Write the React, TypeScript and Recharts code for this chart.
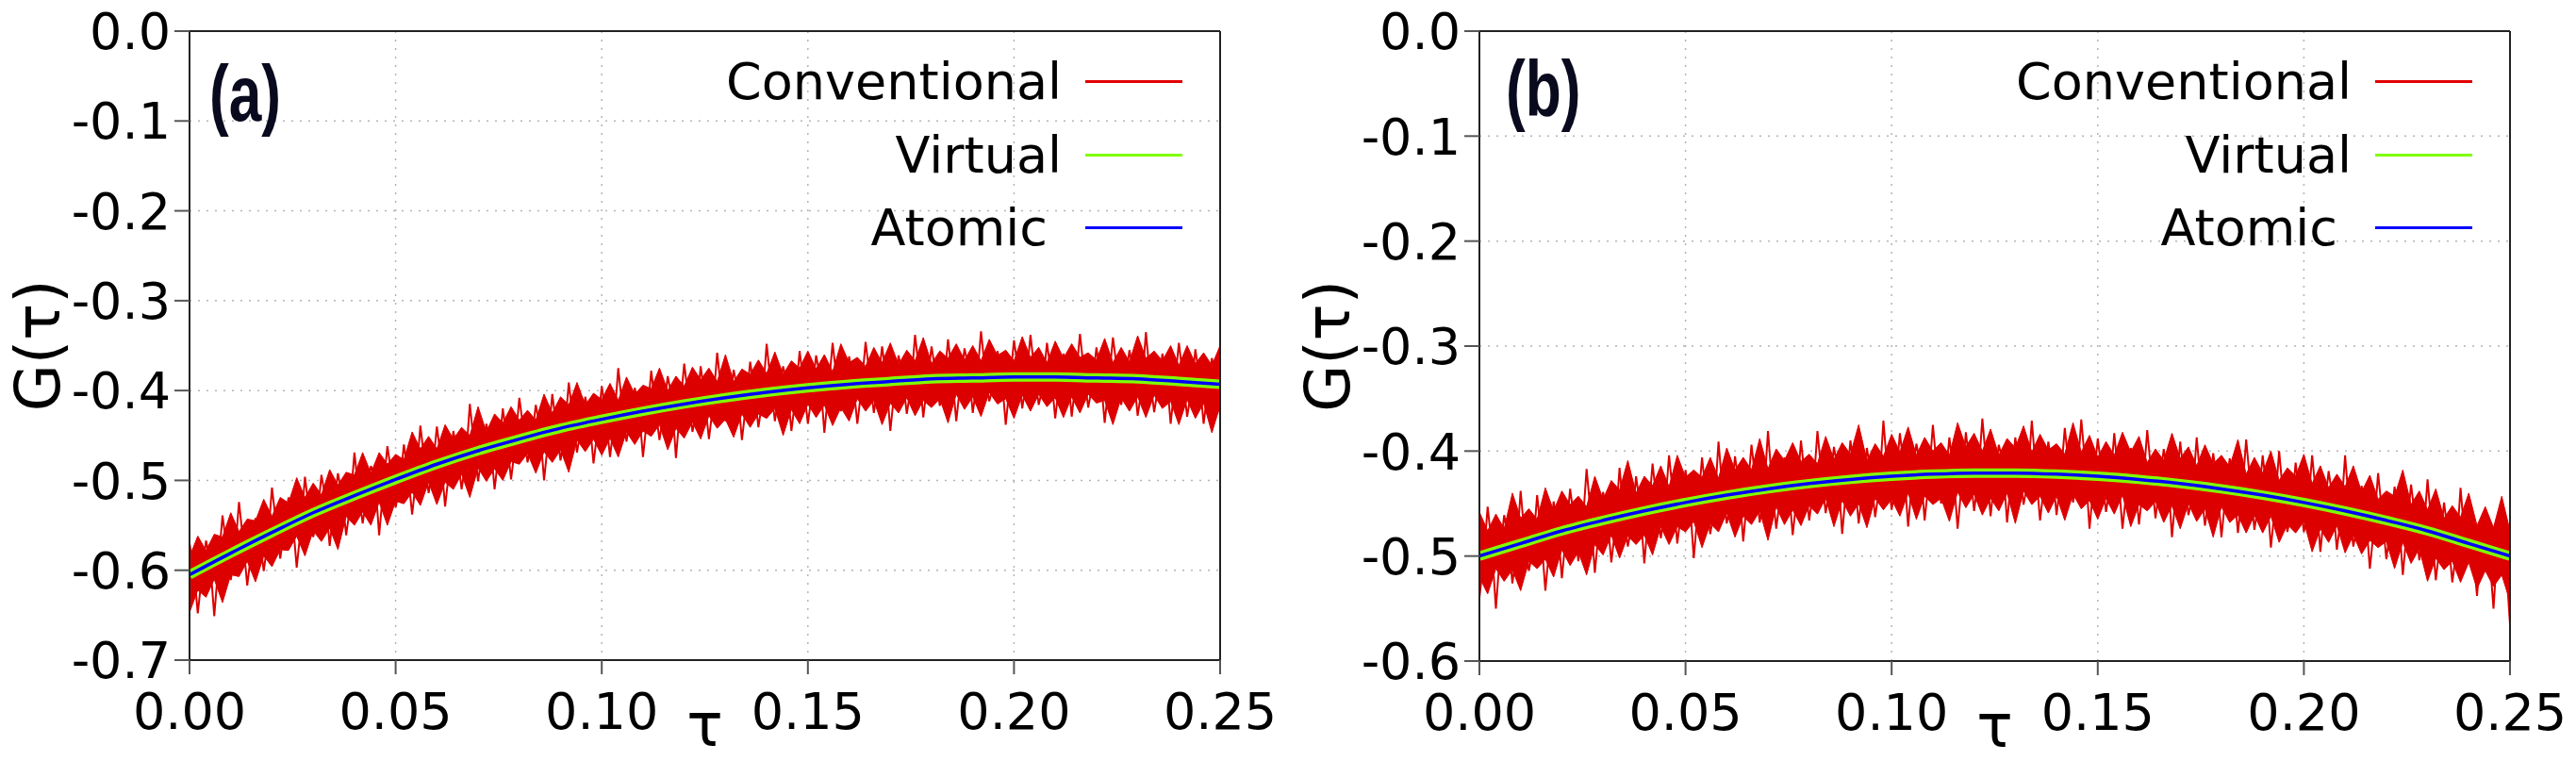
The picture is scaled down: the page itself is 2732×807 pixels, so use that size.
import { ComposedChart, Line, Area, XAxis, YAxis, CartesianGrid, Legend } from 'recharts'

const FONT = '"DejaVu Sans", sans-serif'
const TAG_FONT = '"Liberation Sans", Arial, sans-serif'
const RED = '#dd0000'
const GREEN = '#80ff00'
const BLUE = '#0000ff'

const LEGEND_NAMES = ['Conventional', 'Virtual', 'Atomic']
const LEGEND_COLORS = ['#e00000', GREEN, BLUE]

const TAU_TICKS = [0, 0.05, 0.1, 0.15, 0.2, 0.25]
const Y_TICKS_A = [0, -0.1, -0.2, -0.3, -0.4, -0.5, -0.6, -0.7]
const Y_TICKS_B = [0, -0.1, -0.2, -0.3, -0.4, -0.5, -0.6]

// coarse grid for the smooth Virtual / Atomic curves
const TAU_COARSE = [
  0, 0.01, 0.02, 0.03, 0.04, 0.05, 0.06, 0.07, 0.08, 0.09, 0.1, 0.11, 0.12,
  0.13, 0.14, 0.15, 0.16, 0.17, 0.18, 0.19, 0.2, 0.21, 0.22, 0.23, 0.24, 0.25,
]
// sample points of the noisy conventional estimator: 0, 0.002, ... and 0.001, 0.003, ...
const TAU_FINE = Array.from({ length: 126 }, (_, i) => +(i * 0.002).toFixed(3))
const TAU_MID = Array.from({ length: 125 }, (_, i) => +(i * 0.002 + 0.001).toFixed(3))

// ---- panel (a)
const ATOMIC_A = [
  -0.605, -0.581, -0.558, -0.536, -0.517, -0.499, -0.482, -0.467, -0.454, -0.442, -0.432, -0.423, -0.415,
  -0.408, -0.402, -0.397, -0.393, -0.39, -0.387, -0.386, -0.385, -0.385, -0.386, -0.387, -0.39, -0.393,
]
const VIRTUAL_A = [
  -0.605, -0.581, -0.558, -0.536, -0.517, -0.499, -0.482, -0.467, -0.454, -0.442, -0.432, -0.423, -0.415,
  -0.408, -0.402, -0.397, -0.393, -0.39, -0.387, -0.386, -0.385, -0.385, -0.386, -0.387, -0.39, -0.393,
]
// local upper / lower extent of the conventional noise (dense red core), on TAU_FINE
const UPPER_A = [
  -0.585, -0.562, -0.578, -0.560, -0.563, -0.536, -0.557, -0.543, -0.545, -0.521,
  -0.540, -0.519, -0.525, -0.497, -0.519, -0.503, -0.516, -0.488, -0.505, -0.491,
  -0.494, -0.469, -0.492, -0.469, -0.482, -0.471, -0.477, -0.446, -0.465, -0.451,
  -0.465, -0.438, -0.454, -0.441, -0.450, -0.418, -0.446, -0.426, -0.436, -0.418,
  -0.433, -0.422, -0.433, -0.404, -0.425, -0.407, -0.416, -0.391, -0.416, -0.403,
  -0.410, -0.392, -0.411, -0.385, -0.404, -0.394, -0.398, -0.375, -0.400, -0.384,
  -0.395, -0.374, -0.388, -0.375, -0.390, -0.360, -0.390, -0.376, -0.382, -0.366,
  -0.381, -0.357, -0.382, -0.367, -0.375, -0.356, -0.376, -0.360, -0.379, -0.348,
  -0.369, -0.363, -0.373, -0.352, -0.369, -0.347, -0.371, -0.355, -0.367, -0.341,
  -0.370, -0.356, -0.364, -0.348, -0.366, -0.350, -0.367, -0.343, -0.361, -0.355,
  -0.367, -0.340, -0.363, -0.352, -0.369, -0.345, -0.364, -0.348, -0.363, -0.358,
  -0.366, -0.342, -0.369, -0.352, -0.368, -0.339, -0.364, -0.356, -0.367, -0.350,
  -0.372, -0.350, -0.370, -0.358, -0.372, -0.350,
]
const LOWER_A = [
  -0.647, -0.622, -0.630, -0.610, -0.636, -0.605, -0.607, -0.590, -0.613, -0.584,
  -0.596, -0.577, -0.578, -0.562, -0.584, -0.556, -0.568, -0.553, -0.577, -0.540,
  -0.550, -0.535, -0.550, -0.524, -0.550, -0.523, -0.526, -0.513, -0.528, -0.502,
  -0.527, -0.502, -0.510, -0.493, -0.519, -0.486, -0.501, -0.487, -0.500, -0.479,
  -0.482, -0.470, -0.492, -0.468, -0.480, -0.466, -0.491, -0.455, -0.468, -0.454,
  -0.472, -0.453, -0.474, -0.446, -0.460, -0.445, -0.451, -0.438, -0.466, -0.442,
  -0.453, -0.435, -0.454, -0.428, -0.442, -0.432, -0.452, -0.426, -0.441, -0.426,
  -0.431, -0.420, -0.450, -0.421, -0.437, -0.415, -0.430, -0.416, -0.439, -0.419,
  -0.434, -0.409, -0.423, -0.411, -0.438, -0.414, -0.425, -0.408, -0.428, -0.411,
  -0.419, -0.409, -0.436, -0.404, -0.421, -0.407, -0.429, -0.402, -0.415, -0.409,
  -0.431, -0.405, -0.423, -0.404, -0.418, -0.408, -0.430, -0.407, -0.425, -0.404,
  -0.414, -0.411, -0.438, -0.408, -0.423, -0.407, -0.430, -0.405, -0.420, -0.412,
  -0.438, -0.410, -0.431, -0.414, -0.447, -0.417,
]
// individual conventional samples (spikes) on TAU_FINE and TAU_MID
const CONV_A = [
  -0.570, -0.648, -0.567, -0.651, -0.539, -0.611, -0.524, -0.617, -0.542, -0.601,
  -0.508, -0.587, -0.519, -0.597, -0.496, -0.563, -0.494, -0.573, -0.492, -0.561,
  -0.469, -0.548, -0.484, -0.561, -0.462, -0.530, -0.460, -0.538, -0.439, -0.514,
  -0.440, -0.529, -0.445, -0.510, -0.415, -0.501, -0.437, -0.510, -0.420, -0.499,
  -0.408, -0.480, -0.416, -0.500, -0.404, -0.478, -0.391, -0.469, -0.407, -0.481,
  -0.395, -0.474, -0.375, -0.457, -0.397, -0.474, -0.378, -0.455, -0.384, -0.475,
  -0.370, -0.446, -0.373, -0.454, -0.358, -0.434, -0.377, -0.455, -0.368, -0.441,
  -0.348, -0.434, -0.373, -0.445, -0.356, -0.437, -0.361, -0.447, -0.347, -0.423,
  -0.362, -0.437, -0.346, -0.425, -0.351, -0.445, -0.361, -0.426, -0.338, -0.430,
  -0.351, -0.417, -0.343, -0.434, -0.353, -0.425, -0.334, -0.412, -0.356, -0.438,
  -0.344, -0.420, -0.338, -0.416, -0.347, -0.431, -0.359, -0.429, -0.337, -0.419,
  -0.352, -0.436, -0.341, -0.416, -0.355, -0.428, -0.335, -0.424, -0.359, -0.437,
  -0.347, -0.429, -0.354, -0.437, -0.364, -0.427,
]
const CONV_A_MID = [
  -0.597, -0.606, -0.590, -0.594, -0.574, -0.583, -0.567, -0.579, -0.563, -0.567,
  -0.548, -0.555, -0.542, -0.553, -0.534, -0.541, -0.521, -0.529, -0.517, -0.527,
  -0.512, -0.517, -0.498, -0.509, -0.494, -0.507, -0.492, -0.497, -0.479, -0.487,
  -0.476, -0.488, -0.471, -0.479, -0.460, -0.468, -0.457, -0.469, -0.455, -0.461,
  -0.443, -0.455, -0.441, -0.455, -0.441, -0.447, -0.431, -0.440, -0.430, -0.443,
  -0.427, -0.436, -0.419, -0.428, -0.418, -0.430, -0.418, -0.424, -0.408, -0.420,
  -0.408, -0.422, -0.410, -0.416, -0.401, -0.411, -0.402, -0.415, -0.400, -0.410,
  -0.393, -0.403, -0.394, -0.407, -0.395, -0.402, -0.386, -0.399, -0.388, -0.403,
  -0.391, -0.398, -0.384, -0.394, -0.386, -0.400, -0.385, -0.396, -0.379, -0.390,
  -0.381, -0.395, -0.384, -0.391, -0.376, -0.390, -0.379, -0.394, -0.383, -0.391,
  -0.377, -0.388, -0.380, -0.395, -0.381, -0.392, -0.376, -0.388, -0.380, -0.394,
  -0.383, -0.391, -0.377, -0.391, -0.380, -0.397, -0.386, -0.395, -0.381, -0.393,
  -0.386, -0.401, -0.388, -0.399, -0.384,
]

// ---- panel (b)
const ATOMIC_B = [
  -0.5, -0.488, -0.476, -0.466, -0.457, -0.449, -0.442, -0.436, -0.431, -0.427, -0.424, -0.422, -0.421,
  -0.421, -0.422, -0.424, -0.427, -0.431, -0.436, -0.442, -0.449, -0.457, -0.466, -0.476, -0.488, -0.5,
]
const VIRTUAL_B = [
  -0.5, -0.488, -0.476, -0.466, -0.457, -0.449, -0.442, -0.436, -0.431, -0.427, -0.424, -0.422, -0.421,
  -0.421, -0.422, -0.424, -0.427, -0.431, -0.436, -0.442, -0.449, -0.457, -0.466, -0.476, -0.488, -0.5,
]
const UPPER_B = [
  -0.458, -0.476, -0.460, -0.474, -0.440, -0.464, -0.455, -0.465, -0.435, -0.457,
  -0.438, -0.451, -0.443, -0.453, -0.424, -0.446, -0.428, -0.437, -0.409, -0.440,
  -0.424, -0.433, -0.414, -0.434, -0.404, -0.425, -0.418, -0.425, -0.406, -0.426,
  -0.397, -0.418, -0.406, -0.418, -0.388, -0.417, -0.398, -0.409, -0.392, -0.410,
  -0.403, -0.412, -0.386, -0.408, -0.392, -0.403, -0.375, -0.409, -0.393, -0.405,
  -0.384, -0.401, -0.377, -0.404, -0.387, -0.400, -0.392, -0.404, -0.373, -0.396,
  -0.383, -0.400, -0.379, -0.404, -0.388, -0.397, -0.376, -0.401, -0.384, -0.399,
  -0.393, -0.403, -0.373, -0.401, -0.385, -0.406, -0.391, -0.404, -0.382, -0.401,
  -0.386, -0.411, -0.398, -0.409, -0.383, -0.407, -0.396, -0.414, -0.394, -0.412,
  -0.404, -0.415, -0.389, -0.422, -0.406, -0.421, -0.400, -0.428, -0.416, -0.424,
  -0.403, -0.431, -0.414, -0.435, -0.422, -0.434, -0.414, -0.439, -0.423, -0.446,
  -0.438, -0.443, -0.418, -0.451, -0.438, -0.456, -0.436, -0.464, -0.452, -0.463,
  -0.440, -0.471, -0.453, -0.473, -0.443, -0.476,
]
const LOWER_B = [
  -0.520, -0.536, -0.512, -0.524, -0.513, -0.533, -0.505, -0.512, -0.503, -0.520,
  -0.494, -0.509, -0.496, -0.518, -0.489, -0.499, -0.480, -0.502, -0.481, -0.489,
  -0.480, -0.499, -0.472, -0.489, -0.472, -0.477, -0.467, -0.492, -0.469, -0.477,
  -0.459, -0.482, -0.462, -0.470, -0.457, -0.485, -0.453, -0.470, -0.456, -0.471,
  -0.452, -0.460, -0.445, -0.472, -0.447, -0.462, -0.450, -0.473, -0.445, -0.456,
  -0.446, -0.462, -0.440, -0.465, -0.443, -0.451, -0.445, -0.467, -0.439, -0.454,
  -0.441, -0.461, -0.445, -0.457, -0.440, -0.469, -0.438, -0.451, -0.443, -0.459,
  -0.443, -0.466, -0.441, -0.455, -0.447, -0.465, -0.445, -0.460, -0.442, -0.472,
  -0.451, -0.457, -0.448, -0.468, -0.452, -0.474, -0.450, -0.467, -0.455, -0.482,
  -0.453, -0.468, -0.461, -0.478, -0.461, -0.478, -0.462, -0.487, -0.470, -0.478,
  -0.467, -0.496, -0.474, -0.487, -0.471, -0.497, -0.480, -0.498, -0.485, -0.492,
  -0.486, -0.512, -0.487, -0.507, -0.493, -0.524, -0.502, -0.513, -0.505, -0.525,
  -0.506, -0.531, -0.514, -0.529, -0.518, -0.543,
]
const CONV_B = [
  -0.540, -0.453, -0.550, -0.461, -0.526, -0.438, -0.514, -0.442, -0.533, -0.448,
  -0.521, -0.436, -0.505, -0.417, -0.516, -0.439, -0.506, -0.416, -0.491, -0.424,
  -0.507, -0.412, -0.483, -0.404, -0.488, -0.418, -0.502, -0.406, -0.479, -0.391,
  -0.469, -0.405, -0.486, -0.394, -0.468, -0.381, -0.474, -0.406, -0.480, -0.390,
  -0.466, -0.381, -0.459, -0.396, -0.479, -0.390, -0.469, -0.397, -0.463, -0.371,
  -0.456, -0.383, -0.472, -0.393, -0.466, -0.375, -0.450, -0.387, -0.474, -0.382,
  -0.457, -0.369, -0.462, -0.394, -0.468, -0.387, -0.451, -0.371, -0.466, -0.391,
  -0.461, -0.378, -0.449, -0.370, -0.474, -0.388, -0.458, -0.383, -0.474, -0.397,
  -0.470, -0.380, -0.464, -0.398, -0.482, -0.391, -0.461, -0.387, -0.471, -0.402,
  -0.482, -0.407, -0.478, -0.389, -0.475, -0.404, -0.492, -0.400, -0.477, -0.411,
  -0.477, -0.404, -0.496, -0.419, -0.494, -0.404, -0.491, -0.433, -0.512, -0.421,
  -0.503, -0.434, -0.518, -0.432, -0.504, -0.427, -0.523, -0.449, -0.525, -0.435,
  -0.450, -0.538, -0.458, -0.550, -0.466, -0.565,
]
const CONV_B_MID = [
  -0.504, -0.490, -0.497, -0.483, -0.495, -0.483, -0.493, -0.480, -0.490, -0.472,
  -0.480, -0.466, -0.474, -0.460, -0.473, -0.461, -0.471, -0.460, -0.470, -0.453,
  -0.461, -0.448, -0.456, -0.443, -0.456, -0.445, -0.455, -0.444, -0.454, -0.438,
  -0.447, -0.434, -0.442, -0.429, -0.443, -0.432, -0.443, -0.432, -0.443, -0.427,
  -0.436, -0.423, -0.432, -0.420, -0.434, -0.423, -0.434, -0.424, -0.435, -0.420,
  -0.429, -0.417, -0.426, -0.414, -0.428, -0.418, -0.430, -0.420, -0.431, -0.416,
  -0.426, -0.414, -0.424, -0.412, -0.427, -0.417, -0.429, -0.419, -0.432, -0.417,
  -0.427, -0.416, -0.426, -0.415, -0.430, -0.421, -0.433, -0.424, -0.436, -0.422,
  -0.433, -0.422, -0.432, -0.421, -0.437, -0.428, -0.441, -0.432, -0.445, -0.431,
  -0.442, -0.431, -0.442, -0.432, -0.448, -0.439, -0.452, -0.444, -0.457, -0.444,
  -0.455, -0.445, -0.456, -0.446, -0.462, -0.454, -0.468, -0.460, -0.473, -0.460,
  -0.472, -0.462, -0.474, -0.464, -0.481, -0.473, -0.488, -0.480, -0.495, -0.482,
  -0.494, -0.485, -0.497, -0.488, -0.505,
]

const tickStyle = { fontSize: 54, fill: '#000', fontFamily: FONT }
const axisLine = { stroke: '#222', strokeWidth: 2 }
const tickLine = { stroke: '#555', strokeWidth: 2 }

const yTitle = ({ viewBox }: any) => {
  const x = viewBox.x + viewBox.width - 138
  const y = viewBox.y + viewBox.height / 2
  return (
    <text x={x} y={y} transform={`rotate(-90, ${x}, ${y})`} textAnchor="middle" fontSize={65} fontFamily={FONT} fill="#000">
      G(τ)
    </text>
  )
}

const xTitle = ({ viewBox }: any) => (
  <text x={viewBox.x + viewBox.width / 2} y={viewBox.y + 91} textAnchor="middle" fontSize={64} fontFamily={FONT} fill="#000">
    τ
  </text>
)

const legendContent = () => (
  <div style={{ fontFamily: FONT, fontSize: 54, color: '#000' }}>
    {LEGEND_NAMES.map((name, i) => (
      <div key={name} style={{ display: 'flex', alignItems: 'center', height: 77.5 }}>
        <span
          style={{
            width: 366,
            textAlign: 'right',
            whiteSpace: 'nowrap',
            lineHeight: '77.5px',
            paddingRight: name === 'Atomic' ? 15 : 0,
            boxSizing: 'border-box',
          }}
        >
          {name}
        </span>
        <span style={{ width: 103, height: 3, marginLeft: 25, background: LEGEND_COLORS[i] }} />
      </div>
    ))}
  </div>
)

function Panel({ left, tag, tagX, tagY, yTicks, conv, convMid, upper, lower, virt, atom, plotLeft, plotRight, xAxisH, legendLeft }: any) {
  const spikes = [
    ...TAU_FINE.map((t, i) => ({ tau: t, conv: conv[i] })),
    ...TAU_MID.map((t, i) => ({ tau: t, conv: convMid[i] })),
  ].sort((p, q) => p.tau - q.tau)
  const core = TAU_FINE.map((t, i) => ({ tau: t, band: [lower[i], upper[i]] }))
  const smooth = TAU_COARSE.map((t, i) => ({ tau: t, virt: virt[i], atom: atom[i] }))
  const yDomain = [yTicks[yTicks.length - 1], 0]

  return (
    <div style={{ position: 'absolute', left, top: 0, width: 1366, height: 807 }}>
      <ComposedChart width={1366} height={807} margin={{ top: 32, right: 1366 - plotRight - 1, left: 0, bottom: 0 }}>
        <CartesianGrid stroke="#b4b4b4" strokeDasharray="2 7" strokeWidth={1.5} />
        <XAxis
          dataKey="tau"
          type="number"
          domain={[0, 0.25]}
          ticks={TAU_TICKS}
          interval={0}
          allowDataOverflow
          height={xAxisH}
          tickFormatter={(v: number) => v.toFixed(2)}
          tick={tickStyle}
          tickSize={15}
          tickMargin={20}
          axisLine={axisLine}
          tickLine={tickLine}
          label={xTitle}
        />
        <XAxis
          xAxisId="top"
          orientation="top"
          dataKey="tau"
          type="number"
          domain={[0, 0.25]}
          ticks={TAU_TICKS}
          interval={0}
          allowDataOverflow
          height={1}
          tick={false}
          tickSize={15}
          axisLine={axisLine}
          tickLine={tickLine}
        />
        <YAxis
          type="number"
          domain={yDomain}
          ticks={yTicks}
          interval={0}
          allowDataOverflow
          width={plotLeft}
          tickFormatter={(v: number) => v.toFixed(1)}
          tick={tickStyle}
          tickSize={16}
          tickMargin={4}
          axisLine={axisLine}
          tickLine={tickLine}
          label={yTitle}
        />
        <YAxis
          yAxisId="right"
          orientation="right"
          type="number"
          domain={yDomain}
          allowDataOverflow
          width={1}
          tick={false}
          tickLine={false}
          axisLine={axisLine}
        />
        <Area
          data={core}
          dataKey="band"
          type="linear"
          stroke={RED}
          strokeWidth={1}
          fill={RED}
          fillOpacity={1}
          isAnimationActive={false}
          legendType="none"
        />
        <Line
          data={spikes}
          dataKey="conv"
          name="Conventional"
          type="linear"
          stroke={RED}
          strokeWidth={2}
          dot={false}
          activeDot={false}
          isAnimationActive={false}
        />
        <Line
          data={smooth}
          dataKey="virt"
          name="Virtual"
          type="monotone"
          stroke={GREEN}
          strokeWidth={10}
          dot={false}
          activeDot={false}
          isAnimationActive={false}
        />
        <Line
          data={smooth}
          dataKey="atom"
          name="Atomic"
          type="monotone"
          stroke={BLUE}
          strokeWidth={3.5}
          dot={false}
          activeDot={false}
          isAnimationActive={false}
        />
        <Legend
          layout="vertical"
          align="center"
          verticalAlign="middle"
          content={legendContent}
          wrapperStyle={{ left: legendLeft, top: 48, width: 520, height: 240 }}
        />
      </ComposedChart>
      <svg style={{ position: 'absolute', left: 0, top: 0, pointerEvents: 'none' }} width={400} height={200}>
        <text
          transform={`translate(${tagX}, ${tagY}) scale(0.75, 1)`}
          fontFamily={TAG_FONT}
          fontWeight="bold"
          fontSize={83}
          fill="#0a0a1e"
        >
          {tag}
        </text>
      </svg>
    </div>
  )
}

export default function App() {
  return (
    <div style={{ position: 'absolute', left: 0, top: 0, width: 2732, height: 807, background: '#fff' }}>
      <Panel
        left={0}
        tag="(a)"
        tagX={222}
        tagY={128}
        yTicks={Y_TICKS_A}
        conv={CONV_A}
        convMid={CONV_A_MID}
        upper={UPPER_A}
        lower={LOWER_A}
        virt={VIRTUAL_A}
        atom={ATOMIC_A}
        plotLeft={201}
        plotRight={1294}
        xAxisH={107}
        legendLeft={760}
      />
      <Panel
        left={1366}
        tag="(b)"
        tagX={231}
        tagY={123}
        yTicks={Y_TICKS_B}
        conv={CONV_B}
        convMid={CONV_B_MID}
        upper={UPPER_B}
        lower={LOWER_B}
        virt={VIRTUAL_B}
        atom={ATOMIC_B}
        plotLeft={203}
        plotRight={1296}
        xAxisH={106}
        legendLeft={762}
      />
    </div>
  )
}
